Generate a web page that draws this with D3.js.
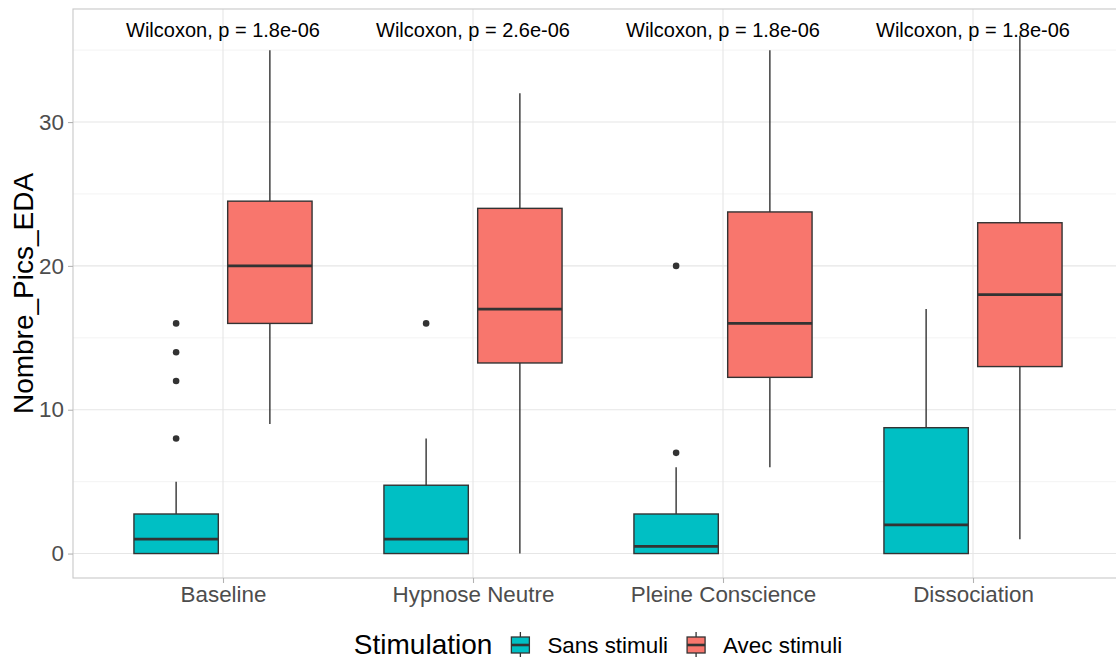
<!DOCTYPE html>
<html>
<head>
<meta charset="utf-8">
<script src="https://cdn.jsdelivr.net/npm/d3@7"></script>
<style>
  body { margin: 0; background: #fff; }
  svg { display: block; font-family: "Liberation Sans", Arial, sans-serif; }
</style>
</head>
<body>
<svg width="1116" height="657"></svg>
<script>
// data
const categories = ["Baseline", "Hypnose Neutre", "Pleine Conscience", "Dissociation"];
const groups = ["Sans stimuli", "Avec stimuli"];
const groupColors = ["#00BFC4", "#F8766D"];

const sansWhiskerLow = [0, 0, 0, 0];
const sansQ1 = [0, 0, 0, 0];
const sansMedian = [1, 1, 0.5, 2];
const sansQ3 = [2.75, 4.75, 2.75, 8.75];
const sansWhiskerHigh = [5, 8, 6, 17];
const sansOutliers = [[8, 12, 14, 16], [16], [7, 20], []];

const avecWhiskerLow = [9, 0, 6, 1];
const avecQ1 = [16, 13.25, 12.25, 13];
const avecMedian = [20, 17, 16, 18];
const avecQ3 = [24.5, 24, 23.75, 23];
const avecWhiskerHigh = [35, 32, 35, 36];
const avecOutliers = [[], [], [], []];

const pValues = ["1.8e-06", "2.6e-06", "1.8e-06", "1.8e-06"];
const labelY = 36.4;
const yTicks = [0, 10, 20, 30];
const yMinor = [5, 15, 25, 35];

var margin = {top: 9, left: 73, right: 1123, bottom: 578};

var boxes = [];
categories.forEach((c, i) => {
  boxes.push({cat: c, grp: groups[0], lo: sansWhiskerLow[i], q1: sansQ1[i], med: sansMedian[i],
    q3: sansQ3[i], hi: sansWhiskerHigh[i], out: sansOutliers[i]});
  boxes.push({cat: c, grp: groups[1], lo: avecWhiskerLow[i], q1: avecQ1[i], med: avecMedian[i],
    q3: avecQ3[i], hi: avecWhiskerHigh[i], out: avecOutliers[i]});
});

var svg = d3.select("svg");

var x = d3.scalePoint()
  .domain(categories)
  .range([margin.left, margin.right])
  .padding(0.6);

var step = x.step();
var xSub = d3.scaleBand()
  .domain(groups)
  .range([-step * 0.375, step * 0.375])
  .paddingInner(0.1)
  .paddingOuter(0.05);

var y = d3.scaleLinear()
  .domain([-1.7, 37.86])
  .range([margin.bottom, margin.top]);

var color = d3.scaleOrdinal().domain(groups).range(groupColors);

// grid
var grid = svg.append("g");
grid.selectAll(".minor")
  .data(yMinor)
  .enter().append("line")
    .attr("x1", margin.left).attr("x2", margin.right)
    .attr("y1", d => y(d)).attr("y2", d => y(d))
    .attr("stroke", "#F0F0F0").attr("stroke-width", 0.8);
grid.selectAll(".majorY")
  .data(yTicks)
  .enter().append("line")
    .attr("x1", margin.left).attr("x2", margin.right)
    .attr("y1", d => y(d)).attr("y2", d => y(d))
    .attr("stroke", "#E6E6E6").attr("stroke-width", 1.1);
grid.selectAll(".majorX")
  .data(categories)
  .enter().append("line")
    .attr("x1", d => x(d)).attr("x2", d => x(d))
    .attr("y1", margin.top).attr("y2", margin.bottom)
    .attr("stroke", "#E6E6E6").attr("stroke-width", 1.1);

// boxes
var g = svg.append("g");
var bw = xSub.bandwidth();
var bx = d => x(d.cat) + xSub(d.grp);
var cx = d => bx(d) + bw / 2;

g.selectAll(".whisk-hi")
  .data(boxes)
  .enter().append("line")
    .attr("x1", cx).attr("x2", cx)
    .attr("y1", d => y(d.q3)).attr("y2", d => y(d.hi))
    .attr("stroke", "#333333").attr("stroke-width", 1.4);
g.selectAll(".whisk-lo")
  .data(boxes)
  .enter().append("line")
    .attr("x1", cx).attr("x2", cx)
    .attr("y1", d => y(d.q1)).attr("y2", d => y(d.lo))
    .attr("stroke", "#333333").attr("stroke-width", 1.4);
g.selectAll(".box")
  .data(boxes)
  .enter().append("rect")
    .attr("x", bx)
    .attr("width", bw)
    .attr("y", d => y(d.q3))
    .attr("height", d => y(d.q1) - y(d.q3))
    .attr("fill", d => color(d.grp))
    .attr("stroke", "#333333").attr("stroke-width", 1.4);
g.selectAll(".median")
  .data(boxes)
  .enter().append("line")
    .attr("x1", bx).attr("x2", d => bx(d) + bw)
    .attr("y1", d => y(d.med)).attr("y2", d => y(d.med))
    .attr("stroke", "#333333").attr("stroke-width", 2.8);

var outPts = [];
boxes.forEach(b => b.out.forEach(v => outPts.push({cat: b.cat, grp: b.grp, v: v})));
g.selectAll(".outlier")
  .data(outPts)
  .enter().append("circle")
    .attr("cx", cx)
    .attr("cy", d => y(d.v))
    .attr("r", 3.3)
    .attr("fill", "#333333");

// panel border
svg.append("rect")
  .attr("x", margin.left).attr("y", margin.top)
  .attr("width", margin.right - margin.left)
  .attr("height", margin.bottom - margin.top)
  .attr("fill", "none").attr("stroke", "#C8C8C8").attr("stroke-width", 1.1);

// p-value labels
svg.append("g").selectAll("text")
  .data(categories)
  .enter().append("text")
    .attr("x", d => x(d))
    .attr("y", y(labelY))
    .attr("dominant-baseline", "central")
    .attr("text-anchor", "middle")
    .style("font-size", "20px")
    .style("fill", "#000")
    .text((d, i) => "Wilcoxon, p = " + pValues[i]);

// axes
var yAxis = svg.append("g")
  .attr("transform", "translate(" + margin.left + ",0)")
  .call(d3.axisLeft(y).tickValues(yTicks).tickSize(5).tickPadding(4));
var xAxis = svg.append("g")
  .attr("transform", "translate(0," + margin.bottom + ")")
  .call(d3.axisBottom(x).tickSize(5).tickPadding(3));
[yAxis, xAxis].forEach(a => {
  a.select(".domain").remove();
  a.selectAll(".tick line").attr("stroke", "#B3B3B3").attr("stroke-width", 1.1);
  a.selectAll(".tick text")
    .attr("fill", "#4D4D4D")
    .style("font-size", "22.4px")
    .style("font-family", "'Liberation Sans', Arial, sans-serif");
});

svg.append("text")
  .attr("transform", "translate(33," + ((margin.top + margin.bottom) / 2) + ") rotate(-90)")
  .attr("text-anchor", "middle")
  .style("font-size", "28px")
  .text("Nombre_Pics_EDA");

// legend
var leg = svg.append("g");
var legTitle = leg.append("text")
  .attr("x", 0).attr("y", 654)
  .style("font-size", "28px")
  .text("Stimulation");
var pos = legTitle.node().getComputedTextLength() + 18;
groups.forEach((gname, i) => {
  var k = leg.append("g").attr("transform", "translate(" + pos + ",0)");
  k.append("line")
    .attr("x1", 10).attr("x2", 10).attr("y1", 632).attr("y2", 658)
    .attr("stroke", "#333333").attr("stroke-width", 1.3);
  k.append("rect")
    .attr("x", 1).attr("y", 637).attr("width", 18).attr("height", 16)
    .attr("fill", color(gname)).attr("stroke", "#333333").attr("stroke-width", 1.3);
  k.append("line")
    .attr("x1", 1).attr("x2", 19).attr("y1", 645).attr("y2", 645)
    .attr("stroke", "#333333").attr("stroke-width", 2.6);
  pos += 37;
  var t = leg.append("text")
    .attr("x", pos).attr("y", 653)
    .style("font-size", "22.4px")
    .text(gname);
  pos += t.node().getComputedTextLength() + 18;
});
var legW = pos - 18;
leg.attr("transform", "translate(" + (598 - legW / 2) + ",0)");
</script>
</body>
</html>
